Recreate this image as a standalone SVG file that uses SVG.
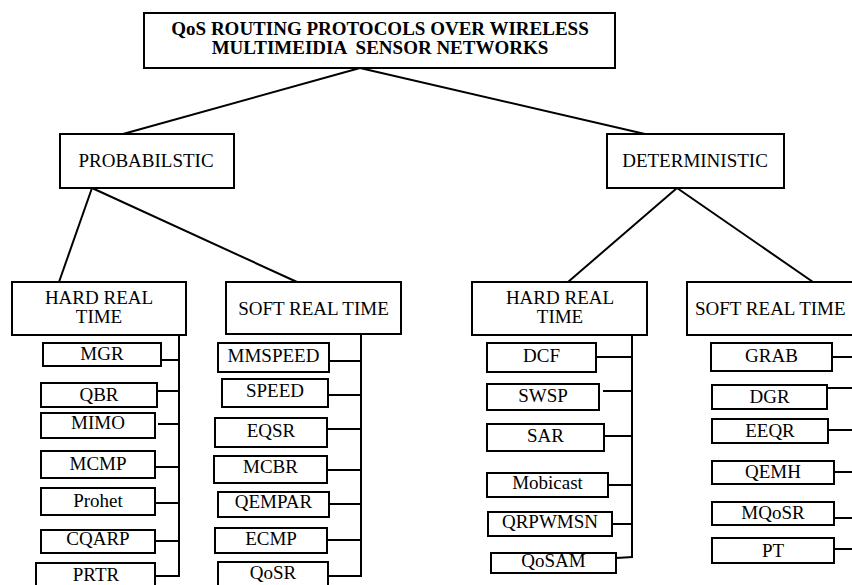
<svg xmlns="http://www.w3.org/2000/svg" width="852" height="585" viewBox="0 0 852 585" font-family="Liberation Serif, DejaVu Serif, serif">
<style>
rect{fill:#fff;stroke:#000;stroke-width:2}
line{stroke:#000;stroke-width:2;fill:none}
text{font-size:19px;fill:#000;text-anchor:middle}
.t{font-weight:bold}
</style>
<rect x="0" y="0" width="852" height="585" style="stroke:none"/>
<g id="connectors">
<line x1="360" y1="68" x2="123" y2="134"/>
<line x1="360" y1="68" x2="645" y2="134"/>
<line x1="92" y1="188" x2="59" y2="282"/>
<line x1="92" y1="188" x2="297" y2="282"/>
<line x1="677" y1="188" x2="568" y2="282"/>
<line x1="677" y1="188" x2="813" y2="282"/>
<line x1="179" y1="335" x2="179" y2="577"/>
<line x1="161" y1="360" x2="179" y2="360"/>
<line x1="157" y1="391" x2="179" y2="391"/>
<line x1="158" y1="424" x2="179" y2="424"/>
<line x1="155" y1="467" x2="179" y2="467"/>
<line x1="155" y1="503" x2="179" y2="503"/>
<line x1="155" y1="541" x2="179" y2="541"/>
<line x1="155" y1="576" x2="180" y2="576"/>
<line x1="361" y1="334" x2="361" y2="577"/>
<line x1="329" y1="361" x2="361" y2="361"/>
<line x1="328" y1="395" x2="361" y2="395"/>
<line x1="327" y1="429" x2="361" y2="429"/>
<line x1="327" y1="470" x2="361" y2="470"/>
<line x1="329" y1="504" x2="361" y2="504"/>
<line x1="327" y1="540" x2="361" y2="540"/>
<line x1="328" y1="576" x2="362" y2="576"/>
<line x1="632" y1="335" x2="632" y2="558"/>
<line x1="596" y1="357" x2="632" y2="357"/>
<line x1="603" y1="391" x2="632" y2="391"/>
<line x1="604" y1="436" x2="632" y2="436"/>
<line x1="608" y1="485" x2="632" y2="485"/>
<line x1="612" y1="524" x2="632" y2="524"/>
<line x1="616" y1="558" x2="633" y2="557"/>
<line x1="832" y1="357" x2="860" y2="357"/>
<line x1="827" y1="388" x2="860" y2="388"/>
<line x1="828" y1="430" x2="860" y2="430"/>
<line x1="834" y1="472" x2="860" y2="472"/>
<line x1="834" y1="518" x2="860" y2="518"/>
<line x1="834" y1="549" x2="860" y2="549"/>
</g>
<g id="root"><rect x="144" y="13" width="471" height="55"/>
<text class="t" x="380" y="35">QoS ROUTING PROTOCOLS OVER WIRELESS</text>
<text class="t" x="380" y="54" xml:space="preserve">MULTIMEIDIA  SENSOR NETWORKS</text></g>
<g id="probabilistic"><rect x="60" y="134" width="174" height="54"/><text x="146" y="167">PROBABILSTIC</text></g>
<g id="deterministic"><rect x="607" y="134" width="177" height="54"/><text x="695" y="167">DETERMINISTIC</text></g>
<g id="p-hard"><rect x="12" y="282" width="174" height="53"/><text x="99" y="304">HARD REAL</text><text x="99" y="323">TIME</text></g>
<g id="p-soft"><rect x="226" y="282" width="175" height="52"/><text x="313.5" y="315">SOFT REAL TIME</text></g>
<g id="d-hard"><rect x="472" y="282" width="175" height="53"/><text x="560" y="304">HARD REAL</text><text x="560" y="323">TIME</text></g>
<g id="d-soft"><rect x="687" y="282" width="176" height="53"/><text x="695" y="315" style="text-anchor:start">SOFT REAL TIME</text></g>
<g id="mgr"><rect x="43" y="343" width="118" height="23"/><text x="102" y="360">MGR</text></g>
<g id="qbr"><rect x="41" y="383" width="116" height="24"/><text x="99" y="401">QBR</text></g>
<g id="mimo"><rect x="41" y="413" width="114" height="25"/><text x="98" y="429">MIMO</text></g>
<g id="mcmp"><rect x="41" y="451" width="114" height="27"/><text x="98" y="470">MCMP</text></g>
<g id="prohet"><rect x="41" y="488" width="114" height="27"/><text x="98" y="507">Prohet</text></g>
<g id="cqarp"><rect x="41" y="530" width="114" height="23"/><text x="98" y="545">CQARP</text></g>
<g id="prtr"><rect x="36" y="563" width="119" height="30"/><text x="96" y="581">PRTR</text></g>
<g id="mmspeed"><rect x="218" y="343" width="111" height="29"/><text x="273.5" y="362">MMSPEED</text></g>
<g id="speed"><rect x="222" y="379" width="106" height="28"/><text x="275" y="397">SPEED</text></g>
<g id="eqsr"><rect x="215" y="418" width="112" height="29"/><text x="271" y="437">EQSR</text></g>
<g id="mcbr"><rect x="214" y="456" width="113" height="27"/><text x="270.5" y="473">MCBR</text></g>
<g id="qempar"><rect x="218" y="492" width="111" height="25"/><text x="273.5" y="508">QEMPAR</text></g>
<g id="ecmp"><rect x="215" y="528" width="112" height="25"/><text x="271" y="545">ECMP</text></g>
<g id="qosr"><rect x="218" y="562" width="110" height="30"/><text x="273" y="579">QoSR</text></g>
<g id="dcf"><rect x="487" y="343" width="109" height="29"/><text x="541.5" y="362">DCF</text></g>
<g id="swsp"><rect x="487" y="384" width="112" height="26"/><text x="543" y="402">SWSP</text></g>
<g id="sar"><rect x="487" y="424" width="117" height="27"/><text x="545.5" y="442">SAR</text></g>
<g id="mobicast"><rect x="487" y="473" width="121" height="24"/><text x="547.5" y="489">Mobicast</text></g>
<g id="qrpwmsn"><rect x="488" y="512" width="124" height="24"/><text x="550" y="528">QRPWMSN</text></g>
<g id="qosam"><rect x="491" y="553" width="125" height="20"/><text x="553.5" y="567">QoSAM</text></g>
<g id="grab"><rect x="711" y="343" width="121" height="28"/><text x="771.5" y="362">GRAB</text></g>
<g id="dgr"><rect x="712" y="385" width="115" height="24"/><text x="769.5" y="403">DGR</text></g>
<g id="eeqr"><rect x="712" y="419" width="116" height="24"/><text x="770" y="437">EEQR</text></g>
<g id="qemh"><rect x="712" y="461" width="122" height="23"/><text x="773" y="478">QEMH</text></g>
<g id="mqosr"><rect x="712" y="502" width="122" height="23"/><text x="773" y="519">MQoSR</text></g>
<g id="pt"><rect x="712" y="538" width="122" height="25"/><text x="773" y="557">PT</text></g>
</svg>
